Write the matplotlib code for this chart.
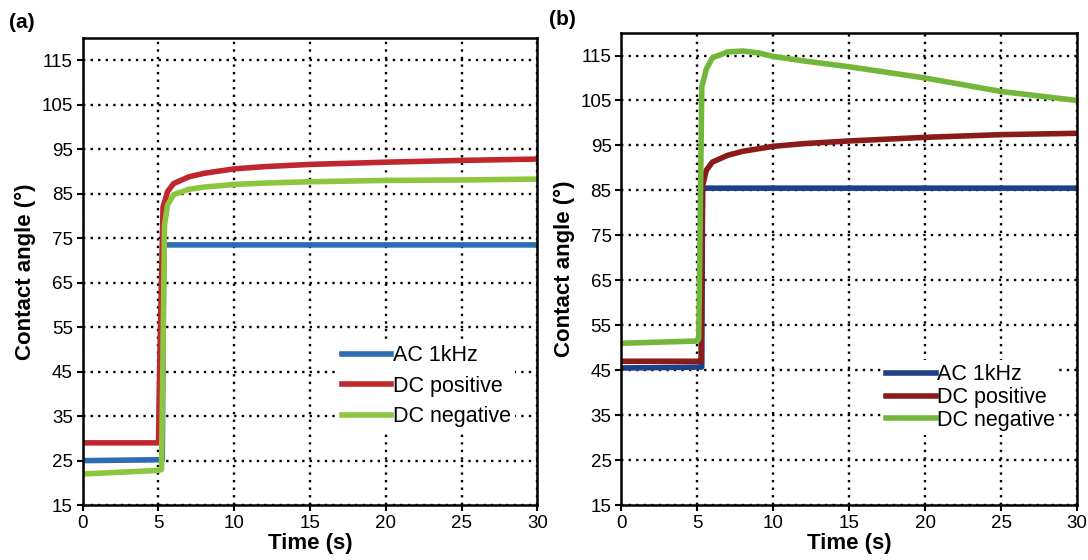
import matplotlib.pyplot as plt

plt.rcParams['font.family'] = ['Liberation Sans', 'DejaVu Sans']

# panel (a) data
ac_a_t = [0, 5.0, 5.25, 5.35, 30]
ac_a = [25, 25.2, 25.2, 73.5, 73.5]
pos_a_t = [0, 5.0, 5.1, 5.3, 5.6, 6, 7, 8, 10, 12, 15, 20, 25, 30]
pos_a = [29, 29, 50, 82, 85.5, 87.3, 88.8, 89.6, 90.6, 91.1, 91.6, 92.1, 92.5, 92.8]
neg_a_t = [0, 5.0, 5.2, 5.4, 5.6, 6, 7, 8, 10, 12, 15, 20, 25, 30]
neg_a = [22, 22.8, 23, 78, 82.5, 84.8, 86, 86.5, 87.1, 87.4, 87.7, 88, 88.1, 88.3]

# panel (b) data
ac_b_t = [0, 5.0, 5.3, 5.35, 30]
ac_b = [45.5, 45.7, 45.7, 85.5, 85.5]
pos_b_t = [0, 5.0, 5.25, 5.35, 5.6, 6, 7, 8, 10, 12, 15, 20, 25, 30]
pos_b = [47, 47, 47, 86, 89.5, 91.3, 92.8, 93.7, 94.8, 95.4, 96, 96.8, 97.4, 97.7]
neg_b_t = [0, 5.0, 5.1, 5.3, 5.6, 6, 7, 8, 9, 10, 12, 15, 18, 20, 22, 25, 28, 30]
neg_b = [51, 51.5, 52, 108, 112, 114.5, 115.8, 116, 115.6, 114.8, 113.8, 112.5, 111, 110, 108.8, 107, 105.8, 105]

labels = ['AC 1kHz', 'DC positive', 'DC negative']
colors_a = ['#2b6cb3', '#c0262d', '#8cc63f']
colors_b = ['#1f3f86', '#8b1a1a', '#72b63a']

xticks = [0, 5, 10, 15, 20, 25, 30]
yticks = [15, 25, 35, 45, 55, 65, 75, 85, 95, 105, 115]

fig = plt.figure(figsize=(10.88, 5.6), dpi=100)
ax_a = fig.add_axes([0.076, 0.098, 0.418, 0.834])
ax_b = fig.add_axes([0.571, 0.098, 0.419, 0.843])

panels = [
    (ax_a, [(ac_a_t, ac_a), (pos_a_t, pos_a), (neg_a_t, neg_a)], colors_a, (0.537, 0.375), 0.45),
    (ax_b, [(ac_b_t, ac_b), (pos_b_t, pos_b), (neg_b_t, neg_b)], colors_b, (0.548, 0.33), 0.08),
]

for ax, series, cols, legpos, lsp in panels:
    for (t, y), c, lab in zip(series, cols, labels):
        ax.plot(t, y, color=c, lw=4, label=lab, solid_joinstyle='round')
    ax.set_xlim(0, 30)
    ax.set_ylim(15, 120)
    ax.set_xticks(xticks)
    ax.set_yticks(yticks)
    ax.grid(True, color='black', linestyle=(0, (1, 2.2)), lw=1.7)
    ax.tick_params(direction='out', length=4, width=1.5, labelsize=13.5, pad=3)
    for s in ax.spines.values():
        s.set_linewidth(1.8)
    ax.set_xlabel('Time (s)', fontsize=16, fontweight='bold', labelpad=1)
    ax.set_ylabel('Contact angle (°)', fontsize=16, fontweight='bold', labelpad=4)
    leg = ax.legend(loc='upper left', bbox_to_anchor=legpos, frameon=True, fontsize=15.5,
                    handlelength=2.3, handletextpad=0.05, labelspacing=lsp, borderpad=0.2,
                    fancybox=False, framealpha=1)
    leg.get_frame().set_edgecolor('none')
    leg.get_frame().set_facecolor('white')

fig.text(0.008, 0.95, '(a)', fontsize=15, fontweight='bold')
fig.text(0.505, 0.955, '(b)', fontsize=15, fontweight='bold')

fig.savefig('out.png', dpi=100)
